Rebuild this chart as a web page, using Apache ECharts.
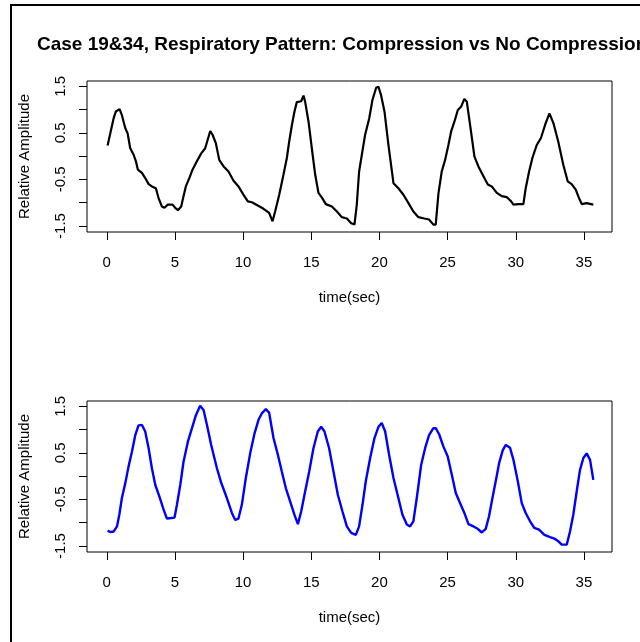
<!DOCTYPE html>
<html>
<head>
<meta charset="utf-8">
<script src="https://cdn.jsdelivr.net/npm/echarts@6/dist/echarts.min.js"></script>
<style>
  html, body { margin: 0; padding: 0; background: #fff; }
  #chart { width: 640px; height: 642px; }
</style>
</head>
<body>
<div id="chart"></div>
<script>
// Respiratory trace, case 19 (compression) — time in seconds, relative amplitude
const timeCompression = [
  0.06, 0.26, 0.5, 0.67, 0.94, 1.11, 1.36, 1.53, 1.72, 1.97, 2.14, 2.28, 2.58, 2.82, 3.07, 3.31, 3.6, 3.8,
  4.04, 4.24, 4.48, 4.83, 5.02, 5.22, 5.46, 5.63, 5.8, 6.07, 6.29, 6.61, 6.93, 7.22, 7.59, 7.76, 8.0, 8.25,
  8.57, 8.93, 9.3, 9.66, 10.03, 10.35, 10.64, 11.08, 11.5, 11.91, 12.16, 12.35, 12.65, 12.96, 13.21, 13.38,
  13.58, 13.77, 13.94, 14.26, 14.43, 14.55, 14.8, 15.04, 15.29, 15.53, 15.78, 16.07, 16.51, 16.88, 17.24,
  17.61, 17.93, 18.17, 18.34, 18.51, 18.71, 18.95, 19.25, 19.49, 19.76, 19.93, 20.12, 20.37, 20.66, 21.03,
  21.39, 21.76, 22.13, 22.49, 22.86, 23.3, 23.64, 23.96, 24.13, 24.33, 24.57, 24.82, 25.06, 25.26, 25.5,
  25.75, 25.99, 26.23, 26.41, 26.65, 26.97, 27.26, 27.63, 27.95, 28.24, 28.61, 28.97, 29.34, 29.66, 29.83,
  30.19, 30.56, 30.73, 30.98, 31.22, 31.54, 31.85, 32.15, 32.47, 32.76, 33.12, 33.49, 33.81, 34.1, 34.4,
  34.64, 34.84, 35.2, 35.69
];
const ampCompression = [
  0.23, 0.49, 0.81, 0.96, 1.01, 0.88, 0.6, 0.49, 0.17, 0.03, -0.11, -0.29, -0.36, -0.47, -0.6, -0.65, -0.69, -0.9,
  -1.08, -1.11, -1.04, -1.04, -1.11, -1.16, -1.08, -0.86, -0.65, -0.46, -0.29, -0.11, 0.06, 0.17, 0.54, 0.46, 0.28, -0.08,
  -0.22, -0.33, -0.53, -0.65, -0.83, -0.97, -0.99, -1.06, -1.13, -1.22, -1.4, -1.19, -0.83, -0.4, -0.04, 0.31,
  0.67, 0.96, 1.16, 1.18, 1.3, 1.17, 0.74, 0.17, -0.4, -0.79, -0.89, -1.03, -1.08, -1.19, -1.31,
  -1.34, -1.44, -1.47, -1.04, -0.33, 0.03, 0.46, 0.81, 1.21, 1.47, 1.49, 1.31, 0.96, 0.24, -0.58,
  -0.69, -0.83, -1.01, -1.19, -1.31, -1.34, -1.36, -1.47, -1.47, -0.8, -0.33, -0.08, 0.24, 0.53, 0.74,
  0.99, 1.06, 1.23, 1.17, 0.67, -0.01, -0.22, -0.43, -0.61, -0.65, -0.79, -0.86, -0.88, -0.97, -1.04,
  -1.03, -1.03, -0.69, -0.33, -0.04, 0.24, 0.39, 0.67, 0.92, 0.71, 0.31, -0.19, -0.54, -0.6, -0.72,
  -0.9, -1.03, -1.01, -1.04
];

// Respiratory trace, case 34 (no compression)
const timeNoCompression = [
  0.06, 0.26, 0.5, 0.75, 0.92, 1.11, 1.36, 1.6, 1.85, 2.09, 2.33, 2.58, 2.82, 3.07, 3.31, 3.56, 3.85, 4.17,
  4.41, 4.73, 4.97, 5.15, 5.39, 5.63, 5.95, 6.25, 6.54, 6.85, 7.1, 7.35, 7.66, 8.08, 8.39, 8.81, 9.18, 9.42,
  9.66, 9.91, 10.2, 10.52, 10.84, 11.13, 11.38, 11.67, 11.91, 12.23, 12.55, 12.84, 13.14, 13.45, 13.77,
  14.02, 14.26, 14.55, 14.85, 15.16, 15.48, 15.73, 15.97, 16.31, 16.63, 16.95, 17.29, 17.61, 17.93, 18.27,
  18.51, 18.76, 19.0, 19.32, 19.63, 19.93, 20.17, 20.42, 20.71, 21.03, 21.39, 21.69, 22.01, 22.25, 22.49,
  22.74, 23.06, 23.35, 23.64, 23.96, 24.13, 24.38, 24.69, 25.01, 25.31, 25.6, 25.92, 26.23, 26.53, 26.9,
  27.21, 27.51, 27.8, 28.04, 28.29, 28.53, 28.78, 29.05, 29.27, 29.58, 29.83, 30.15, 30.44, 30.73, 31.05,
  31.36, 31.71, 32.1, 32.52, 32.83, 33.17, 33.37, 33.74, 33.98, 34.22, 34.47, 34.71, 34.96, 35.2, 35.45,
  35.69
];
const ampNoCompression = [
  -1.17, -1.2, -1.19, -1.08, -0.83, -0.47, -0.15, 0.21, 0.53, 0.88, 1.09, 1.1, 0.96, 0.6, 0.17, -0.19, -0.43, -0.72,
  -0.91, -0.9, -0.89, -0.61, -0.19, 0.31, 0.74, 1.03, 1.31, 1.51, 1.42, 1.1, 0.67, 0.17, -0.14, -0.47, -0.79, -0.94,
  -0.91, -0.61, -0.04, 0.49, 0.92, 1.21, 1.35, 1.44, 1.36, 0.82, 0.46, 0.1, -0.26, -0.54, -0.83,
  -1.03, -0.76, -0.33, 0.1, 0.6, 0.96, 1.06, 0.96, 0.6, 0.1, -0.4, -0.76, -1.08, -1.22, -1.26,
  -1.08, -0.61, -0.11, 0.39, 0.81, 1.06, 1.14, 0.96, 0.46, -0.04, -0.47, -0.83, -1.04, -1.08, -0.97,
  -0.47, 0.24, 0.6, 0.88, 1.03, 1.03, 0.9, 0.64, 0.42, 0.03, -0.36, -0.58, -0.79, -1.03, -1.08,
  -1.13, -1.21, -1.13, -0.86, -0.47, -0.11, 0.28, 0.56, 0.67, 0.61, 0.35, -0.11, -0.58, -0.79, -0.97,
  -1.11, -1.15, -1.26, -1.31, -1.34, -1.41, -1.47, -1.47, -1.19, -0.83, -0.33, 0.13, 0.39, 0.49, 0.35,
  -0.08
];

// Axis ticks and labels
const xTicks = [0, 5, 10, 15, 20, 25, 30, 35];
const yTicks = [-1.5, -1, -0.5, 0, 0.5, 1, 1.5];
const yTickLabels = [-1.5, -0.5, 0.5, 1.5];

const titleText = 'Case 19&34, Respiratory Pattern: Compression vs No Compression';
const xName = 'time(sec)';
const yName = 'Relative Amplitude';

const FONT = '"Liberation Sans", Arial, sans-serif';

function pairs(xs, ys) {
  return xs.map((x, i) => [x, ys[i]]);
}

function xAxisFor(gridIndex) {
  return {
    gridIndex,
    type: 'value',
    min: -1.45,
    max: 37.06,
    name: xName,
    nameLocation: 'middle',
    nameGap: 58,
    nameTextStyle: { fontFamily: FONT, fontSize: 15, color: '#000' },
    axisLine: { show: false, onZero: false },
    splitLine: { show: false },
    axisTick: { show: true, length: 8, customValues: xTicks, lineStyle: { color: '#000', width: 1 } },
    axisLabel: {
      show: true, customValues: xTicks, margin: 23,
      fontFamily: FONT, fontSize: 15, color: '#000'
    }
  };
}

function yAxisFor(gridIndex) {
  return {
    gridIndex,
    type: 'value',
    min: -1.629,
    max: 1.614,
    name: yName,
    nameLocation: 'middle',
    nameRotate: 90,
    nameGap: 55,
    nameTextStyle: { fontFamily: FONT, fontSize: 15, color: '#000' },
    axisLine: { show: false, onZero: false },
    splitLine: { show: false },
    axisTick: { show: true, length: 8, customValues: yTicks, lineStyle: { color: '#000', width: 1 } },
    axisLabel: {
      show: true, customValues: yTickLabels, rotate: 90, margin: 19,
      fontFamily: FONT, fontSize: 15, color: '#000',
      formatter: v => String(v)
    }
  };
}

const chart = echarts.init(document.getElementById('chart'), null, { renderer: 'canvas' });

chart.setOption({
  animation: false,
  backgroundColor: '#fff',
  title: {
    text: titleText,
    left: 37,
    top: 35,
    padding: 0,
    textStyle: { fontFamily: FONT, fontSize: 19, fontWeight: 'bold', color: '#000' }
  },
  graphic: [
    {
      type: 'polyline',
      shape: { points: [[11, 642], [11, 5], [640, 5]] },
      style: { stroke: '#000', lineWidth: 2, fill: null }
    }
  ],
  grid: [
    { left: 87, top: 81, width: 525, height: 151, show: true, borderColor: '#000', borderWidth: 1, backgroundColor: 'transparent' },
    { left: 87, top: 401, width: 525, height: 151, show: true, borderColor: '#000', borderWidth: 1, backgroundColor: 'transparent' }
  ],
  xAxis: [xAxisFor(0), xAxisFor(1)],
  yAxis: [yAxisFor(0), yAxisFor(1)],
  series: [
    {
      type: 'line', xAxisIndex: 0, yAxisIndex: 0,
      data: pairs(timeCompression, ampCompression),
      showSymbol: false, smooth: false,
      lineStyle: { color: '#000000', width: 2.2 }
    },
    {
      type: 'line', xAxisIndex: 1, yAxisIndex: 1,
      data: pairs(timeNoCompression, ampNoCompression),
      showSymbol: false, smooth: false,
      lineStyle: { color: '#0000FF', width: 2.4 }
    }
  ]
});
</script>
</body>
</html>
